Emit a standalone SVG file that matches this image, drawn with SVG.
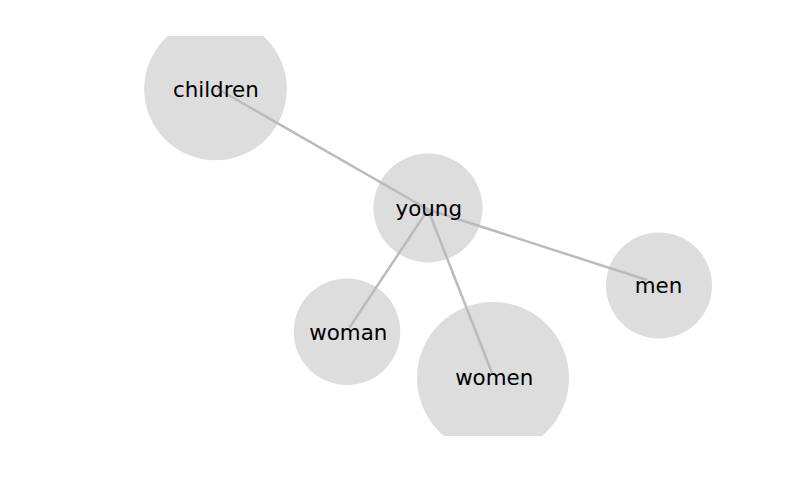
<svg xmlns="http://www.w3.org/2000/svg" width="790" height="500" viewBox="0 0 790 500">
<defs>
<clipPath id="area"><rect x="0" y="36" width="790" height="400"/></clipPath>
<style>
.node circle{fill:#dddddd}
.node text{font-family:"DejaVu Sans",sans-serif;font-size:21.4px;fill:#000;text-anchor:middle}
#links line{stroke:#bbbbbb;stroke-width:2.5;fill:none}
</style>
</defs>
<rect width="790" height="500" fill="#ffffff"/>
<g clip-path="url(#area)">
<g id="node-children" class="node"><circle cx="215.5" cy="89" r="71.3"/></g>
<g id="node-young" class="node"><circle cx="428" cy="208" r="54.5"/></g>
<g id="node-men" class="node"><circle cx="659" cy="285.5" r="53"/></g>
<g id="node-woman" class="node"><circle cx="347" cy="331.7" r="53.3"/></g>
<g id="node-women" class="node"><circle cx="493" cy="378" r="76"/></g>
<g id="links">
<line x1="217" y1="88.5" x2="428" y2="209.5"/>
<line x1="428" y1="209.5" x2="647" y2="280"/>
<line x1="428" y1="209.5" x2="349.5" y2="327.5"/>
<line x1="428" y1="209.5" x2="492" y2="373"/>
</g>
<g class="node"><text x="215.8" y="96.7">children</text></g>
<g class="node"><text x="428.8" y="216">young</text></g>
<g class="node"><text x="658.5" y="292.7">men</text></g>
<g class="node"><text x="348.3" y="339.5">woman</text></g>
<g class="node"><text x="494.2" y="385">women</text></g>
</g>
</svg>
